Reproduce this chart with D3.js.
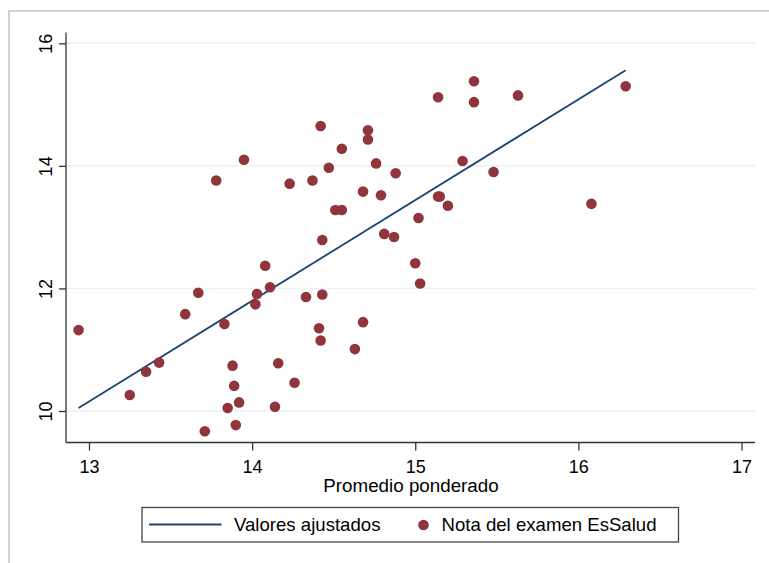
<!DOCTYPE html>
<html>
<head>
<meta charset="utf-8">
<script src="https://cdn.jsdelivr.net/npm/d3@7"></script>
<style>
  html, body { margin: 0; padding: 0; background: #fff; }
  svg { display: block; }
  text { font-family: "Liberation Sans", Arial, sans-serif; fill: #000; }
</style>
</head>
<body>
<svg id="chart" width="769" height="563"></svg>
<script>
// ---- Data ----
const promedio = [12.936, 13.25, 13.35, 13.43, 13.59, 13.67, 13.78, 13.83, 13.85, 13.88,
  13.89, 13.90, 13.92, 13.71, 13.95, 14.02, 14.03, 14.08, 14.11, 14.14,
  14.16, 14.23, 14.26, 14.33, 14.37, 14.41, 14.42, 14.42, 14.43, 14.43,
  14.47, 14.51, 14.55, 14.55, 14.63, 14.68, 14.68, 14.71, 14.71, 14.76,
  14.79, 14.81, 14.87, 14.88, 15.00, 15.02, 15.03, 15.14, 15.14, 15.15,
  15.20, 15.29, 15.36, 15.36, 15.48, 15.63, 16.08, 16.29];
const nota = [11.32, 10.26, 10.64, 10.79, 11.58, 11.93, 13.76, 11.42, 10.05, 10.74,
  10.41, 9.77, 10.14, 9.67, 14.10, 11.74, 11.91, 12.37, 12.02, 10.07,
  10.78, 13.71, 10.46, 11.86, 13.76, 11.35, 11.15, 14.65, 12.79, 11.90,
  13.97, 13.28, 13.28, 14.28, 11.01, 13.58, 11.45, 14.43, 14.58, 14.04,
  13.52, 12.89, 12.84, 13.88, 12.41, 13.15, 12.08, 15.12, 13.50, 13.50,
  13.35, 14.08, 15.38, 15.04, 13.90, 15.15, 13.38, 15.30];
const fitX = [12.936, 16.29];
const fitY = [10.05, 15.56];
const xTicks = [13, 14, 15, 16, 17];
const yTicks = [10, 12, 14, 16];
const xTitle = "Promedio ponderado";
const legendLabels = ["Valores ajustados", "Nota del examen EsSalud"];

// ---- Layout ----
const svg = d3.select("#chart");
const colLine = "#1a476f", colDot = "#90353b";
const axisLeft = 66, axisRight = 755, axisTop = 32.5, axisBottom = 442.5;

const x = d3.scaleLinear().domain([13, 17]).range([89, 741.5]);
const y = d3.scaleLinear().domain([10, 16]).range([411, 43.3]);

// outer border (cropped on right/bottom)
svg.append("path")
  .attr("d", `M9,563 L9,11 L769,11`)
  .attr("fill", "none").attr("stroke", "#c4c4c4").attr("stroke-width", 1.5);

// gridlines
svg.append("g").selectAll("line").data(yTicks).join("line")
  .attr("x1", axisLeft).attr("x2", axisRight)
  .attr("y1", d => y(d)).attr("y2", d => y(d))
  .attr("stroke", "#eaf2f3").attr("stroke-width", 1.5);

// fitted line
svg.append("path")
  .datum(fitX.map((d, i) => [d, fitY[i]]))
  .attr("d", d3.line().x(d => x(d[0])).y(d => y(d[1])))
  .attr("fill", "none").attr("stroke", colLine).attr("stroke-width", 1.8);

// points
svg.append("g").selectAll("circle").data(promedio.map((d, i) => [d, nota[i]])).join("circle")
  .attr("cx", d => x(d[0])).attr("cy", d => y(d[1])).attr("r", 5.3)
  .attr("fill", colDot);

// y axis
const yAxis = svg.append("g").attr("transform", `translate(${axisLeft},0)`)
  .call(d3.axisLeft(y).tickValues(yTicks).tickSize(7).tickFormat(d3.format("d")));
yAxis.select(".domain").attr("d", `M0,${axisTop}V${axisBottom}`);
yAxis.selectAll("line, .domain").attr("stroke", "#333").attr("stroke-width", 1.3);
yAxis.selectAll("text")
  .attr("x", null).attr("dy", null)
  .attr("transform", "translate(-14.5,0) rotate(-90)")
  .attr("text-anchor", "middle")
  .attr("font-size", 18).attr("fill", "#000")
  .style("font-family", "'Liberation Sans', Arial, sans-serif");

// x axis
const xAxis = svg.append("g").attr("transform", `translate(0,${axisBottom})`)
  .call(d3.axisBottom(x).tickValues(xTicks).tickSize(8).tickFormat(d3.format("d")));
xAxis.select(".domain").attr("d", `M${axisLeft},0H${axisRight}`);
xAxis.selectAll("line, .domain").attr("stroke", "#333").attr("stroke-width", 1.3);
xAxis.selectAll("text")
  .attr("y", 30).attr("dy", null)
  .attr("font-size", 18).attr("fill", "#000")
  .style("font-family", "'Liberation Sans', Arial, sans-serif");

// x title
svg.append("text").attr("x", 411).attr("y", 492)
  .attr("text-anchor", "middle").attr("font-size", 18.8).text(xTitle);

// legend
const lg = svg.append("g");
lg.append("rect").attr("x", 142).attr("y", 507.5).attr("width", 536.5).attr("height", 34.5)
  .attr("fill", "#fff").attr("stroke", "#444").attr("stroke-width", 1.3);
lg.append("line").attr("x1", 149).attr("x2", 221.5).attr("y1", 524.5).attr("y2", 524.5)
  .attr("stroke", colLine).attr("stroke-width", 1.8);
lg.append("text").attr("x", 234).attr("y", 531).attr("font-size", 18.6).text(legendLabels[0]);
lg.append("circle").attr("cx", 423.5).attr("cy", 525).attr("r", 5.3).attr("fill", colDot);
lg.append("text").attr("x", 441.5).attr("y", 531).attr("font-size", 18.6).text(legendLabels[1]);
</script>
</body>
</html>
